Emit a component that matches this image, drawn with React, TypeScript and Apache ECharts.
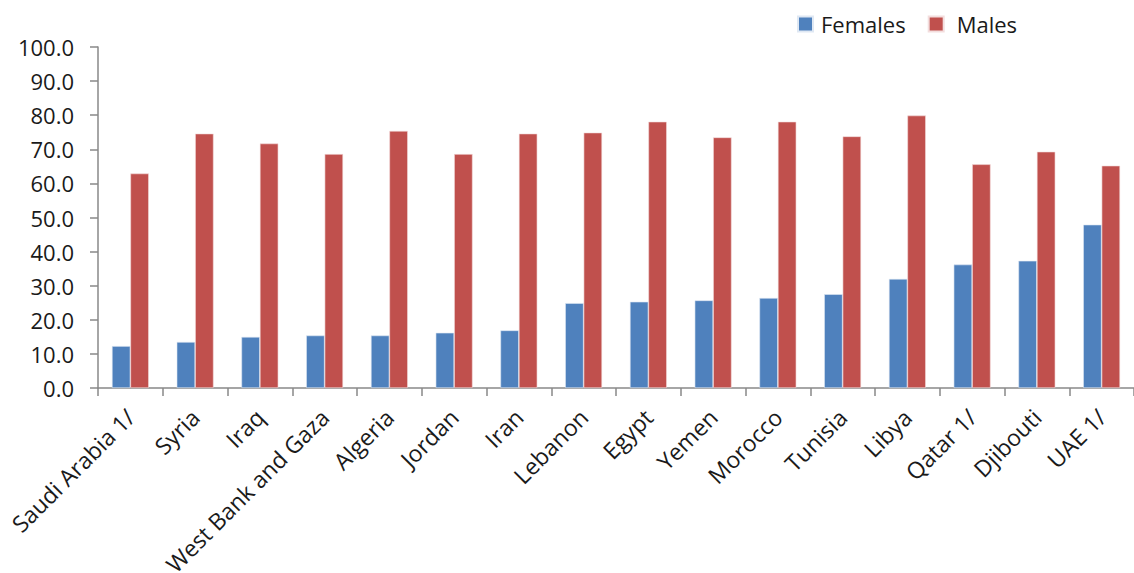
import React, { useEffect, useRef } from "react";
import * as echarts from "echarts";

const categories = [
  "Saudi Arabia 1/", "Syria", "Iraq", "West Bank and Gaza", "Algeria", "Jordan", "Iran",
  "Lebanon", "Egypt", "Yemen", "Morocco", "Tunisia", "Libya", "Qatar 1/", "Djibouti", "UAE 1/",
];
const females = [12.3, 13.5, 15.0, 15.4, 15.4, 16.2, 16.9, 24.9, 25.3, 25.7, 26.4, 27.5, 32.0, 36.2, 37.3, 47.9];
const males = [62.9, 74.6, 71.7, 68.6, 75.4, 68.6, 74.6, 74.9, 78.1, 73.5, 78.1, 73.8, 79.9, 65.6, 69.3, 65.2];
const yTicks = { min: 0, max: 100, interval: 10 };

const FONT = "'Open Sans', 'Noto Sans', sans-serif";

export default function App() {
  const ref = useRef<HTMLDivElement>(null);
  useEffect(() => {
    if (!ref.current) return;
    const chart = echarts.init(ref.current, undefined, { renderer: "svg" });
    chart.setOption({
      animation: false,
      backgroundColor: "#ffffff",
      textStyle: { fontFamily: FONT },
      legend: {
        left: 792,
        top: 8,
        itemWidth: 15,
        itemHeight: 15,
        itemGap: 22,
        icon: "rect",
        textStyle: { fontSize: 22, color: "#1a1a1a", fontFamily: FONT, padding: [0, 0, 0, 3] },
        data: [
          { name: "Females" },
          { name: "Males", textStyle: { padding: [0, 0, 0, 8] } },
        ],
      },
      grid: { left: 98, top: 47, right: 0, bottom: 185, containLabel: false, outerBoundsMode: "none" },
      xAxis: {
        type: "category",
        data: categories,
        axisLine: { lineStyle: { color: "#888888", width: 1.5 } },
        axisTick: { show: true, length: 8, alignWithLabel: false, lineStyle: { color: "#888888", width: 1.5 } },
        axisLabel: {
          rotate: 45,
          interval: 0,
          margin: 25,
          fontSize: 23,
          color: "#1a1a1a",
          fontFamily: FONT,
        },
      },
      yAxis: {
        type: "value",
        min: yTicks.min,
        max: yTicks.max,
        interval: yTicks.interval,
        splitLine: { show: false },
        axisLine: { show: true, lineStyle: { color: "#888888", width: 1.5 } },
        axisTick: { show: true, length: 8, lineStyle: { color: "#888888", width: 1.5 } },
        axisLabel: {
          fontSize: 22,
          margin: 24,
          color: "#1a1a1a",
          fontFamily: FONT,
          formatter: (v: number) => v.toFixed(1),
        },
      },
      series: [
        {
          name: "Females",
          type: "bar",
          data: females,
          barGap: "0%",
          barCategoryGap: "43%",
          itemStyle: { color: "#4F81BD", borderColor: "#dfe8f3", borderWidth: 0.6 },
        },
        {
          name: "Males",
          type: "bar",
          data: males,
          barGap: "0%",
          barCategoryGap: "43%",
          itemStyle: { color: "#C0504D", borderColor: "#f3dede", borderWidth: 0.6 },
        },
      ],
    });
    return () => chart.dispose();
  }, []);
  return (
    <div
      ref={ref}
      style={{ position: "fixed", left: 0, top: 0, width: 1134, height: 573, background: "#fff" }}
    />
  );
}
